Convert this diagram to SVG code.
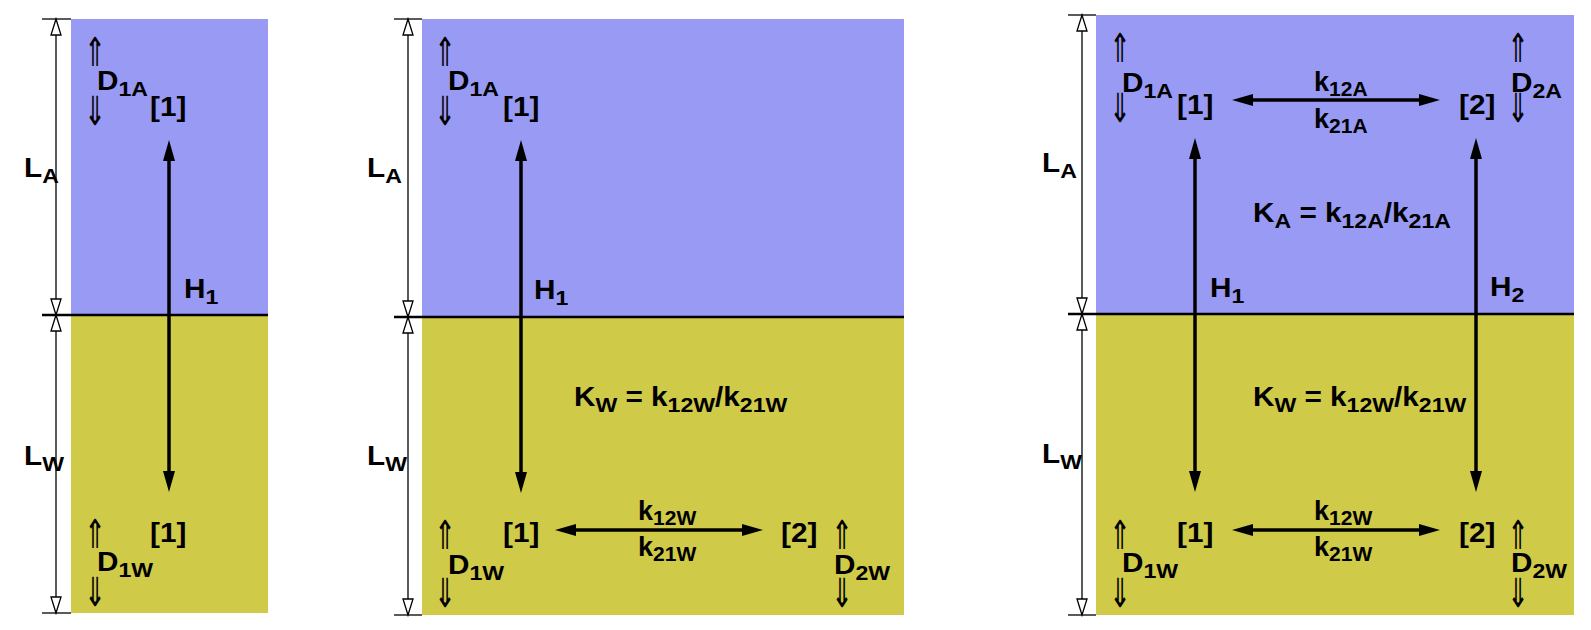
<svg xmlns="http://www.w3.org/2000/svg" width="1591" height="630" viewBox="0 0 1591 630">
<style>
.air{fill:#999af4}
.wat{fill:#cfca48}
.t{font-family:"Liberation Sans",Arial,Helvetica,sans-serif;font-weight:bold;font-size:27px;fill:#000}
.s{font-size:21px}
.g{font-family:"DejaVu Sans",sans-serif;font-size:40px;fill:#000;text-anchor:middle}
.div{stroke:#000;stroke-width:2.5}
.dim{stroke:#000;stroke-width:1.3;fill:none}
.tri{fill:#fff;stroke:#000;stroke-width:1.3}
.arr{stroke:#000;stroke-width:3.5;fill:none;marker-start:url(#ah);marker-end:url(#ah)}
</style>
<defs>
<marker id="ah" viewBox="0 0 21 12" markerUnits="userSpaceOnUse" markerWidth="21" markerHeight="12" refX="5" refY="6" orient="auto-start-reverse"><path d="M0,0 L21,6 L0,12 Z" fill="#000"/></marker>
<path id="up" class="tri" d="M0,0 L-5,16 L5,16 Z"/>
<path id="dn" class="tri" d="M0,0 L-5,-16 L5,-16 Z"/>
</defs>

<g id="panel1">
<rect class="air" x="71" y="19" width="197" height="296"/>
<rect class="wat" x="71" y="315" width="197" height="298"/>
<line class="div" x1="42" y1="315" x2="268" y2="315"/>
<g id="dim1">
<line class="dim" x1="56" y1="19" x2="56" y2="613"/>
<line class="dim" x1="42" y1="19" x2="71" y2="19"/>
<line class="dim" x1="42" y1="613" x2="71" y2="613"/>
<use href="#up" x="56" y="19"/>
<use href="#dn" x="56" y="315"/>
<use href="#up" x="56" y="315"/>
<use href="#dn" x="56" y="613"/>
</g>
<text class="t" transform="matrix(1.1 0 0 1 24 177)">L<tspan class="s" dy="6">A</tspan></text>
<text class="t" transform="matrix(1.1 0 0 1 24 465)">L<tspan class="s" dy="6">W</tspan></text>
<g id="p1-D1A"><text class="g" transform="matrix(0.65 0 0 1 95 66)">⇑</text><text class="t" transform="matrix(1.1 0 0 1 97 90)">D<tspan class="s" dy="6">1A</tspan></text><text class="g" transform="matrix(0.65 0 0 1 95 125)">⇓</text></g>
<text id="p1-c1A" class="t" transform="matrix(1.1 0 0 1 150 116)">[1]</text>
<text id="p1-H1" class="t" transform="matrix(1.1 0 0 1 184 298)">H<tspan class="s" dy="6">1</tspan></text>
<text id="p1-c1W" class="t" transform="matrix(1.1 0 0 1 150 542)">[1]</text>
<g id="p1-D1W"><text class="g" transform="matrix(0.65 0 0 1 95 548)">⇑</text><text class="t" transform="matrix(1.1 0 0 1 97 571)">D<tspan class="s" dy="6">1W</tspan></text><text class="g" transform="matrix(0.65 0 0 1 95 606)">⇓</text></g>
</g>

<g id="panel2">
<rect class="air" x="422" y="19" width="482" height="298"/>
<rect class="wat" x="422" y="317" width="482" height="298"/>
<line class="div" x1="394" y1="317" x2="904" y2="317"/>
<g id="dim2">
<line class="dim" x1="408" y1="19" x2="408" y2="615"/>
<line class="dim" x1="394" y1="19" x2="422" y2="19"/>
<line class="dim" x1="394" y1="615" x2="422" y2="615"/>
<use href="#up" x="408" y="19"/>
<use href="#dn" x="408" y="317"/>
<use href="#up" x="408" y="317"/>
<use href="#dn" x="408" y="615"/>
</g>
<text class="t" transform="matrix(1.1 0 0 1 367 177)">L<tspan class="s" dy="6">A</tspan></text>
<text class="t" transform="matrix(1.1 0 0 1 367 465)">L<tspan class="s" dy="6">W</tspan></text>
<g id="p2-D1A"><text class="g" transform="matrix(0.65 0 0 1 445 66)">⇑</text><text class="t" transform="matrix(1.1 0 0 1 448 90)">D<tspan class="s" dy="6">1A</tspan></text><text class="g" transform="matrix(0.65 0 0 1 445 125)">⇓</text></g>
<text id="p2-c1A" class="t" transform="matrix(1.1 0 0 1 503 116)">[1]</text>
<text id="p2-H1" class="t" transform="matrix(1.1 0 0 1 534 299)">H<tspan class="s" dy="6">1</tspan></text>
<text id="p2-KW" class="t" transform="matrix(1.1 0 0 1 574 406)">K<tspan class="s" dy="6">W</tspan><tspan dy="-6"> = k</tspan><tspan class="s" dy="6">12W</tspan><tspan dy="-6">/k</tspan><tspan class="s" dy="6">21W</tspan></text>
<text id="p2-c1W" class="t" transform="matrix(1.1 0 0 1 503 542)">[1]</text>
<text id="p2-c2W" class="t" transform="matrix(1.1 0 0 1 781 542)">[2]</text>
<text id="p2-k12W" class="t" x="638" y="520">k<tspan class="s" dy="5">12W</tspan></text>
<text id="p2-k21W" class="t" x="638" y="556">k<tspan class="s" dy="5">21W</tspan></text>
<g id="p2-D1W"><text class="g" transform="matrix(0.65 0 0 1 445 549)">⇑</text><text class="t" transform="matrix(1.1 0 0 1 448 574)">D<tspan class="s" dy="6">1W</tspan></text><text class="g" transform="matrix(0.65 0 0 1 445 607)">⇓</text></g>
<g id="p2-D2W"><text class="g" transform="matrix(0.65 0 0 1 842 549)">⇑</text><text class="t" transform="matrix(1.1 0 0 1 834 574)">D<tspan class="s" dy="6">2W</tspan></text><text class="g" transform="matrix(0.65 0 0 1 842 607)">⇓</text></g>
</g>

<g id="panel3">
<rect class="air" x="1096" y="15" width="478" height="299"/>
<rect class="wat" x="1096" y="314" width="478" height="301"/>
<line class="div" x1="1068" y1="314" x2="1574" y2="314"/>
<g id="dim3">
<line class="dim" x1="1082" y1="15" x2="1082" y2="615"/>
<line class="dim" x1="1068" y1="15" x2="1096" y2="15"/>
<line class="dim" x1="1068" y1="615" x2="1096" y2="615"/>
<use href="#up" x="1082" y="15"/>
<use href="#dn" x="1082" y="314"/>
<use href="#up" x="1082" y="314"/>
<use href="#dn" x="1082" y="615"/>
</g>
<text class="t" transform="matrix(1.1 0 0 1 1042 172)">L<tspan class="s" dy="6">A</tspan></text>
<text class="t" transform="matrix(1.1 0 0 1 1042 463)">L<tspan class="s" dy="6">W</tspan></text>
<g id="p3-D1A"><text class="g" transform="matrix(0.65 0 0 1 1120 62)">⇑</text><text class="t" transform="matrix(1.1 0 0 1 1122 92)">D<tspan class="s" dy="6">1A</tspan></text><text class="g" transform="matrix(0.65 0 0 1 1120 122)">⇓</text></g>
<g id="p3-D2A"><text class="g" transform="matrix(0.65 0 0 1 1518 62)">⇑</text><text class="t" transform="matrix(1.1 0 0 1 1511 92)">D<tspan class="s" dy="6">2A</tspan></text><text class="g" transform="matrix(0.65 0 0 1 1518 122)">⇓</text></g>
<text id="p3-c1A" class="t" transform="matrix(1.1 0 0 1 1177 114)">[1]</text>
<text id="p3-c2A" class="t" transform="matrix(1.1 0 0 1 1459 114)">[2]</text>
<text id="p3-k12A" class="t" x="1314" y="91">k<tspan class="s" dy="5">12A</tspan></text>
<text id="p3-k21A" class="t" x="1314" y="128">k<tspan class="s" dy="5">21A</tspan></text>
<text id="p3-KA" class="t" transform="matrix(1.1 0 0 1 1253 222)">K<tspan class="s" dy="6">A</tspan><tspan dy="-6"> = k</tspan><tspan class="s" dy="6">12A</tspan><tspan dy="-6">/k</tspan><tspan class="s" dy="6">21A</tspan></text>
<text id="p3-H1" class="t" transform="matrix(1.1 0 0 1 1210 297)">H<tspan class="s" dy="6">1</tspan></text>
<text id="p3-H2" class="t" transform="matrix(1.1 0 0 1 1490 296)">H<tspan class="s" dy="6">2</tspan></text>
<text id="p3-KW" class="t" transform="matrix(1.1 0 0 1 1253 406)">K<tspan class="s" dy="6">W</tspan><tspan dy="-6"> = k</tspan><tspan class="s" dy="6">12W</tspan><tspan dy="-6">/k</tspan><tspan class="s" dy="6">21W</tspan></text>
<text id="p3-c1W" class="t" transform="matrix(1.1 0 0 1 1177 542)">[1]</text>
<text id="p3-c2W" class="t" transform="matrix(1.1 0 0 1 1459 542)">[2]</text>
<text id="p3-k12W" class="t" x="1314" y="520">k<tspan class="s" dy="5">12W</tspan></text>
<text id="p3-k21W" class="t" x="1314" y="556">k<tspan class="s" dy="5">21W</tspan></text>
<g id="p3-D1W"><text class="g" transform="matrix(0.65 0 0 1 1120 549)">⇑</text><text class="t" transform="matrix(1.1 0 0 1 1122 572)">D<tspan class="s" dy="6">1W</tspan></text><text class="g" transform="matrix(0.65 0 0 1 1120 607)">⇓</text></g>
<g id="p3-D2W"><text class="g" transform="matrix(0.65 0 0 1 1518 549)">⇑</text><text class="t" transform="matrix(1.1 0 0 1 1511 572)">D<tspan class="s" dy="6">2W</tspan></text><text class="g" transform="matrix(0.65 0 0 1 1518 607)">⇓</text></g>
</g>

<g id="connectors">
<line class="arr" x1="169" y1="156" x2="169" y2="476"/>
<line class="arr" x1="521" y1="156" x2="521" y2="477"/>
<line class="arr" x1="571" y1="530" x2="747" y2="530"/>
<line class="arr" x1="1195" y1="154" x2="1195" y2="476"/>
<line class="arr" x1="1476" y1="154" x2="1476" y2="476"/>
<line class="arr" x1="1248" y1="100" x2="1424" y2="100"/>
<line class="arr" x1="1248" y1="530" x2="1424" y2="530"/>
</g>
</svg>
